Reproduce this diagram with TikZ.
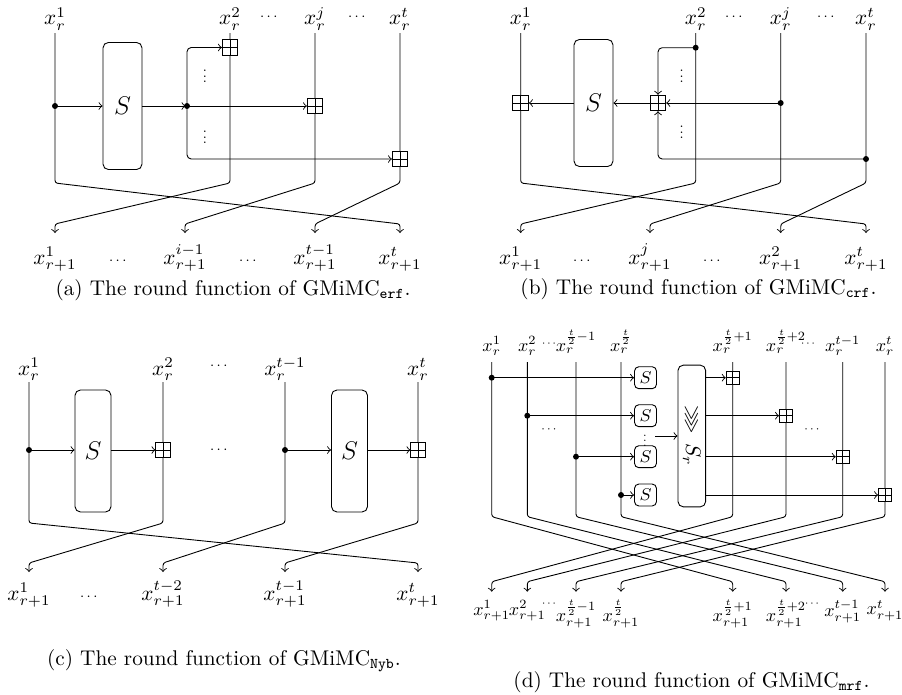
\documentclass[tikz,border=0pt]{standalone}
\usepackage{amsmath,amssymb}
\usetikzlibrary{calc}
\begin{document}
\begin{tikzpicture}[x=0.47pt,y=-0.47pt,line width=0.42pt,
  every node/.style={inner sep=0pt},
  lab/.style={anchor=base},
  dlab/.style={anchor=base,scale=0.85},
  dlabn/.style={anchor=north,scale=0.85},
  cd/.style={scale=0.7},
  dot/.style={circle,fill,inner sep=0pt,minimum size=2.8pt},
  xorb/.style={draw,fill=white,inner sep=0pt,minimum size=#1,
    path picture={\draw (path picture bounding box.north) -- (path picture bounding box.south)
      (path picture bounding box.west) -- (path picture bounding box.east);}},
  bigS/.style={draw,rounded corners=2.5pt,font=\large},
  smallS/.style={draw,rounded corners=2pt,minimum size=10.3pt,font=\footnotesize},
  wire/.style={rounded corners=1.2pt},
  vd/.style={scale=0.68},
]
\useasboundingbox (0,0) rectangle (902,695);

%%%%%%%%%%%%%%%% (a)
\node[lab] (a1) at (55,25) {$x_r^1$};
\node[lab] (a2) at (230,25) {$x_r^2$};
\node[lab] (aj) at (315,25) {$x_r^j$};
\node[lab] (at) at (400,25) {$x_r^t$};
\node[cd] (ac1) at (270,17) {$\cdots$};
\node[cd] (ac2) at (358,17) {$\cdots$};
\coordinate (aT1) at (55,33);
\coordinate (aT2) at (230,33);
\coordinate (aTj) at (315,33);
\coordinate (aTt) at (400,33);
\coordinate (aB1) at (55,233);
\coordinate (aB2) at (185,233);
\coordinate (aB3) at (315,233);
\coordinate (aB4) at (400,233);
\coordinate (aM) at (0,183);
\coordinate (aN) at (0,224);
\draw[wire,->] (aT1) -- (aT1 |- aM) -- (aB4 |- aN) -- (aB4);
\draw[wire,->] (aT2) -- (aT2 |- aM) -- (aB1 |- aN) -- (aB1);
\draw[wire,->] (aTj) -- (aTj |- aM) -- (aB2 |- aN) -- (aB2);
\draw[wire,->] (aTt) -- (aTt |- aM) -- (aB3 |- aN) -- (aB3);
\node[bigS,minimum width=18.3pt,minimum height=59.7pt] (aS) at (122.5,106) {$S$};
\node[xorb=7.2pt] (ax2) at (230,47.5) {};
\node[xorb=7.2pt] (axj) at (315,106) {};
\node[xorb=7.2pt] (axt) at (400,159) {};
\coordinate (ad2c) at (187,106);
\draw[->] (aT1 |- aS.west) -- (aS.west);
\draw[->] (aS.east) -- ($(ad2c)+(-1.5,0)$);
\draw[->] (ad2c) -- (axj.west);
\draw[->,rounded corners=2pt] (ad2c) |- (ax2.west);
\draw[->,rounded corners=2pt] (ad2c) |- (axt.west);
\node[dot] (ad1) at (55,106) {};
\node[dot] (ad2) at (ad2c) {};
\node[vd] at (205,72) {$\vdots$};
\node[vd] at (205,133) {$\vdots$};
\node[lab] (aL1) at (55,264) {$x_{r+1}^1$};
\node[lab,cd] at (119,264) {$\cdots$};
\node[lab] (aL2) at (185,264) {$x_{r+1}^{i-1}$};
\node[lab,cd] at (249,264) {$\cdots$};
\node[lab] (aL3) at (315,264) {$x_{r+1}^{t-1}$};
\node[lab] (aL4) at (400,264) {$x_{r+1}^t$};
\node[lab] (capa) at (233,295) {(a) The round function of GMiMC$_{\mathtt{erf}}$.};

%%%%%%%%%%%%%%%% (b)
\node[lab] (b1) at (520.7,25) {$x_r^1$};
\node[lab] (b2) at (695.7,25) {$x_r^2$};
\node[lab] (bj) at (780.7,25) {$x_r^j$};
\node[lab] (bt) at (866,25) {$x_r^t$};
\node[cd] (bc1) at (735,17) {$\cdots$};
\node[cd] (bc2) at (827,17) {$\cdots$};
\coordinate (bT1) at (520.7,33);
\coordinate (bT2) at (695.7,33);
\coordinate (bTj) at (780.7,33);
\coordinate (bTt) at (866,33);
\coordinate (bB1) at (520.7,233);
\coordinate (bB2) at (650,233);
\coordinate (bB3) at (780.7,233);
\coordinate (bB4) at (866,233);
\draw[wire,->] (bT1) -- (bT1 |- aM) -- (bB4 |- aN) -- (bB4);
\draw[wire,->] (bT2) -- (bT2 |- aM) -- (bB1 |- aN) -- (bB1);
\draw[wire,->] (bTj) -- (bTj |- aM) -- (bB2 |- aN) -- (bB2);
\draw[wire,->] (bTt) -- (bTt |- aM) -- (bB3 |- aN) -- (bB3);
\node[bigS,minimum width=18.3pt,minimum height=59.7pt] (bS) at (593.5,103) {$S$};
\node[xorb=7.3pt] (bx1) at (520.7,103) {};
\node[xorb=7.3pt] (bxm) at (658,103) {};
\coordinate (bd2c) at (695.7,47.7);
\coordinate (bdjc) at (780.7,103);
\coordinate (bdtc) at (866,159);
\draw[->] (bS.west) -- (bx1.east);
\draw[->] (bxm.west) -- (bS.east);
\draw[->] (bdjc) -- (bxm.east);
\draw[->,rounded corners=2pt] (bd2c) -| (bxm.north);
\draw[->,rounded corners=2pt] (bdtc) -| (bxm.south);
\node[dot] (bd2) at (bd2c) {};
\node[dot] (bdj) at (bdjc) {};
\node[dot] (bdt) at (bdtc) {};
\node[vd] at (681.7,72) {$\vdots$};
\node[vd] at (681.7,128) {$\vdots$};
\node[lab] (bL1) at (520.7,264) {$x_{r+1}^1$};
\node[lab,cd] at (583,264) {$\cdots$};
\node[lab] (bL2) at (650,264) {$x_{r+1}^j$};
\node[lab,cd] at (713,264) {$\cdots$};
\node[lab] (bL3) at (780.7,264) {$x_{r+1}^2$};
\node[lab] (bL4) at (866,264) {$x_{r+1}^t$};
\node[lab] (capb) at (698.5,294) {(b) The round function of GMiMC$_{\mathtt{crf}}$.};

%%%%%%%%%%%%%%%% (c)
\node[lab] (c1) at (29,375) {$x_r^1$};
\node[lab] (c2) at (163,375) {$x_r^2$};
\node[lab] (c3) at (285,375) {$x_r^{t-1}$};
\node[lab] (c4) at (418,375) {$x_r^t$};
\node[cd] (cc1) at (220,366) {$\cdots$};
\coordinate (cT1) at (29,382);
\coordinate (cT2) at (163,382);
\coordinate (cT3) at (285,382);
\coordinate (cT4) at (418,382);
\coordinate (cB1) at (29,572);
\coordinate (cB2) at (163,572);
\coordinate (cB3) at (285,572);
\coordinate (cB4) at (418,572);
\coordinate (cM) at (0,523);
\coordinate (cN) at (0,563);
\draw[wire,->] (cT1) -- (cT1 |- cM) -- (cB4 |- cN) -- (cB4);
\draw[wire,->] (cT2) -- (cT2 |- cM) -- (cB1 |- cN) -- (cB1);
\draw[wire,->] (cT3) -- (cT3 |- cM) -- (cB2 |- cN) -- (cB2);
\draw[wire,->] (cT4) -- (cT4 |- cM) -- (cB3 |- cN) -- (cB3);
\node[bigS,minimum width=16.9pt,minimum height=57.3pt] (cS1) at (93,451) {$S$};
\node[bigS,minimum width=16.9pt,minimum height=57.3pt] (cS2) at (349.5,451) {$S$};
\node[xorb=6.7pt] (cx1) at (163,450) {};
\node[xorb=6.7pt] (cx2) at (418,450) {};
\coordinate (cd1c) at (29,450);
\coordinate (cd2c) at (285,450);
\draw[->] (cd1c) -- (cS1.west |- cd1c);
\draw[->] (cS1.east |- cx1) -- (cx1.west);
\draw[->] (cd2c) -- (cS2.west |- cd2c);
\draw[->] (cS2.east |- cx2) -- (cx2.west);
\node[dot] (cd1) at (cd1c) {};
\node[dot] (cd2) at (cd2c) {};
\node[cd] (cc2) at (220,450) {$\cdots$};
\node[lab] (cL1) at (29,600) {$x_{r+1}^1$};
\node[lab,cd] at (90,600) {$\cdots$};
\node[lab] (cL2) at (163,600) {$x_{r+1}^{t-2}$};
\node[lab] (cL3) at (285,600) {$x_{r+1}^{t-1}$};
\node[lab] (cL4) at (418,600) {$x_{r+1}^t$};
\node[lab] (capc) at (224,665) {(c) The round function of GMiMC$_{\mathtt{Nyb}}$.};

%%%%%%%%%%%%%%%% (d)
\foreach \n/\x/\t in {1/491.7/1, 2/527.3/2, 3/576/{\frac{t}{2}-1}, 4/621/{\frac{t}{2}},
    5/732.7/{\frac{t}{2}+1}, 6/786/{\frac{t}{2}+2}, 7/842.7/{t-1}, 8/885/t}{
  \node[dlab] (dl\n) at (\x,351) {$x_r^{\t}$};
  \coordinate (dT\n) at (\x,362);
  \coordinate (dB\n) at (\x,591.7);
  \node[dlabn] (dL\n) at (\x,600) {$x_{r+1}^{\t}$};
}
\node[scale=0.55] at (550,344) {$\cdots$};
\node[scale=0.55] at (809,344) {$\cdots$};
\node[scale=0.55] at (550,604) {$\cdots$};
\node[scale=0.55] at (813,604) {$\cdots$};
\coordinate (dM) at (0,516.7);
\coordinate (dN) at (0,581.7);
\foreach \i/\j in {1/5,2/6,3/7,4/8,5/1,6/2,7/3,8/4}
  \draw[wire,->] (dT\i) -- (dT\i |- dM) -- (dB\j |- dN) -- (dB\j);
\node[draw,rounded corners=2.5pt,minimum width=13pt,minimum height=66.6pt] (dSr) at (691.8,436) {};
\node[rotate=-90] (dSrt) at (dSr) {$\ggg\, S_r$};
\foreach \n/\y in {1/377.7, 2/415.7, 3/456.7, 4/495}{
  \node[smallS] (dS\n) at (645.5,\y) {$S$};
}
\foreach \n/\x/\y in {1/491.7/377.7, 2/527.3/415.7, 3/576/456.7, 4/621/495}{
  \coordinate (dd\n c) at (\x,\y);
  \draw[->] (dd\n c) -- (dS\n.west);
  \node[dot] (dd\n) at (dd\n c) {};
}
\foreach \n/\x/\y in {1/732.7/377.7, 2/786/415.7, 3/842.7/456.7, 4/885/495}{
  \node[xorb=6.1pt] (dx\n) at (\x,\y) {};
  \draw[->] (dSr.east |- dx\n) -- (dx\n.west);
}
\node[scale=0.6] (dvd) at (645,437) {$\vdots$};
\coordinate (dv) at (655,436);
\draw[->] (dv) -- (dSr.west);
\node[scale=0.6] at (550,430) {$\cdots$};
\node[scale=0.6] at (813,430) {$\cdots$};
\node[lab] (capd) at (691.5,687) {(d) The round function of GMiMC$_{\mathtt{mrf}}$.};
\end{tikzpicture}
\end{document}
